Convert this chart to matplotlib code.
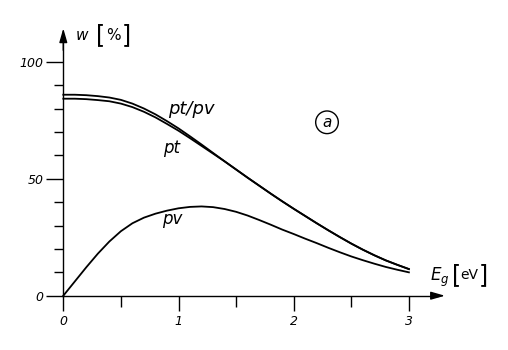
import matplotlib
matplotlib.use("Agg")
import matplotlib.pyplot as plt

# band gap E_g [eV]
eg = [0.0, 0.1, 0.2, 0.3, 0.4, 0.5, 0.6, 0.7, 0.8, 0.9, 1.0,
      1.1, 1.2, 1.3, 1.4, 1.5, 1.6, 1.7, 1.8, 1.9, 2.0,
      2.1, 2.2, 2.3, 2.4, 2.5, 2.6, 2.7, 2.8, 2.9, 3.0]
# efficiencies w [%]
pt_pv = [86.0, 86.0, 85.8, 85.4, 84.8, 83.8, 82.2, 80.1, 77.6, 74.7, 71.6,
         68.2, 64.7, 61.1, 57.5, 54.0, 50.5, 47.1, 43.7, 40.4, 37.2,
         34.1, 31.0, 28.0, 25.1, 22.3, 19.7, 17.3, 15.1, 13.2, 11.4]
pt = [84.3, 84.3, 84.1, 83.7, 83.2, 82.2, 80.7, 78.7, 76.3, 73.5, 70.6,
      67.4, 64.1, 60.8, 57.5, 54.0, 50.5, 47.1, 43.7, 40.4, 37.2,
      34.1, 31.0, 28.0, 25.1, 22.3, 19.7, 17.3, 15.1, 13.2, 11.4]
pv = [0.0, 6.1, 12.2, 18.0, 23.2, 27.6, 31.0, 33.4, 35.1, 36.4, 37.4,
      38.0, 38.2, 37.9, 37.1, 35.9, 34.3, 32.4, 30.4, 28.3, 26.4,
      24.4, 22.5, 20.5, 18.6, 16.8, 15.2, 13.7, 12.3, 11.1, 10.0]

x_major = [0, 1, 2, 3]
x_minor = [0.5, 1.5, 2.5]
y_major = [0, 50, 100]
y_minor = [10, 20, 30, 40, 60, 70, 80, 90]

fig = plt.figure(figsize=(5.08, 3.5), dpi=100)
ax = fig.add_axes([0, 0, 1, 1])
ax.set_xlim(-0.5495, 3.8602)
ax.set_ylim(-23.23, 126.53)

lw = 1.3
ax.plot(eg, pt_pv, color="black", lw=lw)
ax.plot(eg, pt, color="black", lw=lw)
ax.plot(eg, pv, color="black", lw=lw)

# axes through the origin
for s in ["top", "right"]:
    ax.spines[s].set_visible(False)
ax.spines["left"].set_position(("data", 0))
ax.spines["bottom"].set_position(("data", 0))
ax.spines["left"].set_bounds(0, 108)
ax.spines["bottom"].set_bounds(0, 3.25)
ax.spines["left"].set_linewidth(1.0)
ax.spines["bottom"].set_linewidth(1.0)

arrow = dict(arrowstyle="-|>,head_length=0.7,head_width=0.2", color="black",
             lw=1.0, mutation_scale=12, shrinkA=0, shrinkB=0)
ax.annotate("", xy=(0, 114.4), xytext=(0, 105), arrowprops=arrow)
ax.annotate("", xy=(3.313, 0), xytext=(3.2, 0), arrowprops=arrow)

ax.set_xticks(x_major)
ax.set_xticks(x_minor, minor=True)
ax.set_yticks(y_major)
ax.set_yticks(y_minor, minor=True)
ax.tick_params(axis="x", which="major", direction="out", length=11, width=1.0, pad=3, labelsize=9)
ax.tick_params(axis="x", which="minor", direction="out", length=8, width=1.0)
ax.tick_params(axis="y", which="major", direction="out", length=12, width=1.0, pad=2, labelsize=9)
ax.tick_params(axis="y", which="minor", direction="out", length=6.5, width=1.0)
for lbl in ax.get_xticklabels() + ax.get_yticklabels():
    lbl.set_fontstyle("italic")

# axis titles
ax.text(0.16, 111.3, "w", fontsize=11, style="italic", ha="center", va="center")
ax.text(0.32, 111.3, "[", fontsize=17, ha="center", va="center")
ax.text(0.435, 111.3, "%", fontsize=11, ha="center", va="center")
ax.text(0.55, 111.3, "]", fontsize=17, ha="center", va="center")

ax.text(3.18, 7.8, "$E_g$", fontsize=12, ha="left", va="center")
ax.text(3.41, 8.9, "[", fontsize=17, ha="center", va="center")
ax.text(3.525, 8.9, "eV", fontsize=10, ha="center", va="center")
ax.text(3.645, 8.9, "]", fontsize=17, ha="center", va="center")

# curve labels
ax.text(1.113, 80.1, "pt/pv", fontsize=13, style="italic", ha="center", va="center")
ax.text(0.939, 63.0, "pt", fontsize=12, style="italic", ha="center", va="center")
ax.text(0.944, 32.8, "pv", fontsize=12, style="italic", ha="center", va="center")

ax.text(2.289, 74.2, "a", fontsize=11, style="italic", ha="center", va="center",
        bbox=dict(boxstyle="circle,pad=0.25", fc="none", ec="black", lw=1.0))

fig.savefig("out.png", dpi=100)
